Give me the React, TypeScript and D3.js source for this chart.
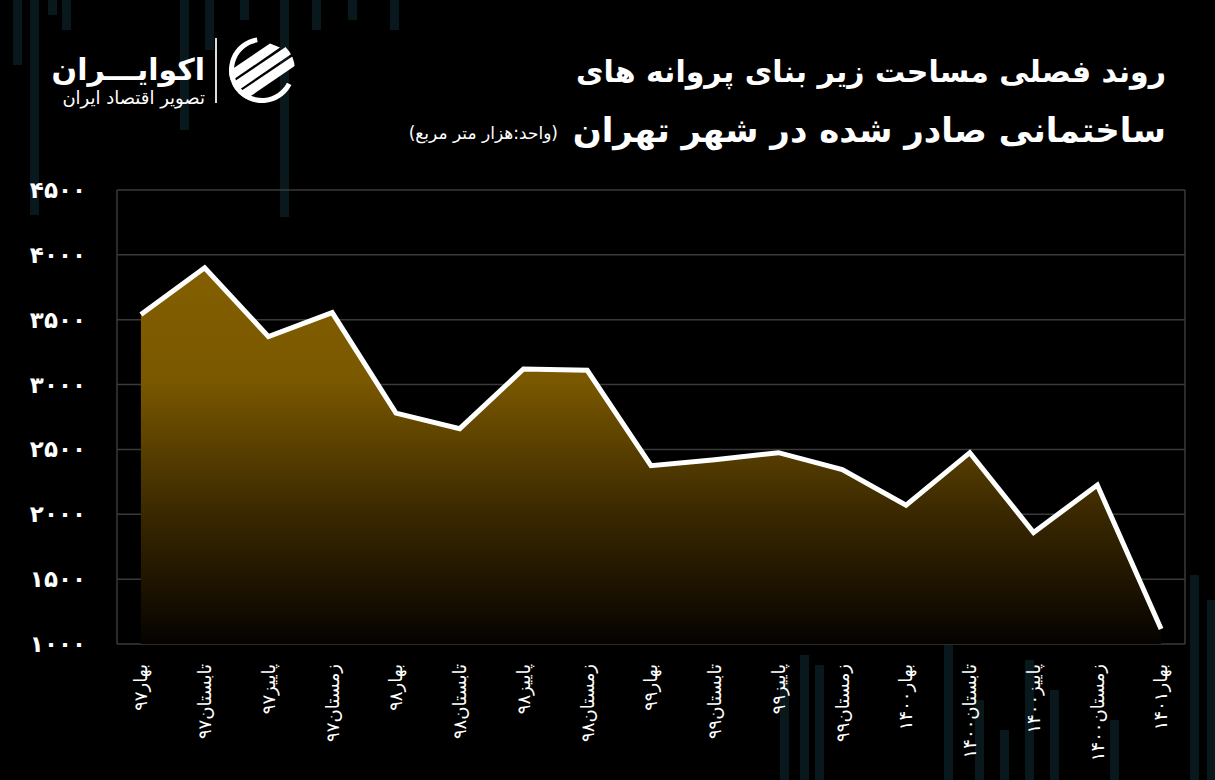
import { useRef, useEffect } from 'react'
import * as d3 from 'd3'

const SEASONS = [
  'بهار۹۷', 'تابستان۹۷', 'پاییز۹۷', 'زمستان۹۷',
  'بهار۹۸', 'تابستان۹۸', 'پاییز۹۸', 'زمستان۹۸',
  'بهار۹۹', 'تابستان۹۹', 'پاییز۹۹', 'زمستان۹۹',
  'بهار۱۴۰۰', 'تابستان۱۴۰۰', 'پاییز۱۴۰۰', 'زمستان۱۴۰۰',
  'بهار۱۴۰۱',
]
const AREA_VALUES = [
  3540, 3900, 3370, 3555,
  2780, 2660, 3120, 3110,
  2375, 2420, 2475, 2345,
  2070, 2475, 1860, 2225,
  1115,
]
const Y_TICKS = [1000, 1500, 2000, 2500, 3000, 3500, 4000, 4500]

const TITLE_1 = 'روند فصلی مساحت زیر بنای پروانه های'
const TITLE_2 = 'ساختمانی صادر شده در شهر تهران'
const UNIT = '(واحد:هزار متر مربع)'
const BRAND = 'اکوایـــران'
const BRAND_SUB = 'تصویر اقتصاد ایران'

// faint background candles (decoration): x, top, bottom
const BG_BARS: [number, number, number][] = [
  [13, 0, 65], [30, 0, 215], [48, 0, 15], [62, 0, 30], [180, 0, 130],
  [205, 0, 50], [240, 0, 20], [280, 0, 217], [312, 0, 30], [348, 0, 20],
  [390, 0, 30],
  [780, 680, 780], [800, 655, 780], [815, 665, 780], [944, 645, 780],
  [975, 700, 780], [1000, 730, 780], [1025, 660, 780], [1050, 690, 780],
  [1110, 720, 780], [1190, 575, 780], [1207, 600, 780],
]

const W = 1215
const H = 780
const PLOT = { left: 117, right: 1185, top: 190, bottom: 644 }
const FONT = "'DejaVu Sans', sans-serif"
const GRID = '#3a3a3a'
const GOLD = '#835f00'

const faDigits = (s: string) => s.replace(/\d/g, (d) => '۰۱۲۳۴۵۶۷۸۹'[+d])

export default function App() {
  const svgRef = useRef<SVGSVGElement>(null)

  useEffect(() => {
    const svg = svgRef.current
    if (!svg) return
    const sel = d3.select(svg)
    sel.selectAll('*').remove()

    sel.append('rect').attr('width', W).attr('height', H).attr('fill', '#000')

    const defs = sel.append('defs')
    const grad = defs.append('linearGradient').attr('id', 'areaGrad')
      .attr('x1', 0).attr('y1', 0).attr('x2', 0).attr('y2', 1)
    grad.append('stop').attr('offset', '0%').attr('stop-color', GOLD)
    grad.append('stop').attr('offset', '30%').attr('stop-color', '#7a5800')
    grad.append('stop').attr('offset', '65%').attr('stop-color', '#3a2800')
    grad.append('stop').attr('offset', '100%').attr('stop-color', '#050200')

    sel.append('g').selectAll('rect').data(BG_BARS).enter().append('rect')
      .attr('x', (d) => d[0]).attr('y', (d) => d[1])
      .attr('width', 9).attr('height', (d) => d[2] - d[1])
      .attr('fill', '#08181d')

    const x = d3.scalePoint<string>().domain(SEASONS)
      .range([PLOT.left, PLOT.right]).padding(0.375)
    const y = d3.scaleLinear().domain([1000, 4500]).range([PLOT.bottom, PLOT.top])

    const g = sel.append('g')

    // grid + frame
    g.append('g').selectAll('line').data(Y_TICKS).enter().append('line')
      .attr('x1', PLOT.left).attr('x2', PLOT.right)
      .attr('y1', (d) => y(d)).attr('y2', (d) => y(d))
      .attr('stroke', GRID).attr('stroke-width', 1.5)
    g.append('line').attr('x1', PLOT.left).attr('x2', PLOT.left)
      .attr('y1', PLOT.top).attr('y2', PLOT.bottom).attr('stroke', GRID).attr('stroke-width', 1.5)
    g.append('line').attr('x1', PLOT.right).attr('x2', PLOT.right)
      .attr('y1', PLOT.top).attr('y2', PLOT.bottom).attr('stroke', GRID).attr('stroke-width', 1.5)

    const area = d3.area<number>()
      .x((_, i) => x(SEASONS[i])!)
      .y0(y(1000))
      .y1((d) => y(d))
    g.append('path').datum(AREA_VALUES).attr('d', area).attr('fill', 'url(#areaGrad)')

    const line = d3.line<number>().x((_, i) => x(SEASONS[i])!).y((d) => y(d))
    g.append('path').datum(AREA_VALUES).attr('d', line)
      .attr('fill', 'none').attr('stroke', '#fff').attr('stroke-width', 5)
      .attr('stroke-linejoin', 'miter')

    // y labels
    g.append('g').selectAll('text').data(Y_TICKS).enter().append('text')
      .attr('x', 86).attr('y', (d) => y(d)).attr('dy', '0.35em')
      .attr('text-anchor', 'end').attr('fill', '#fff')
      .attr('font-family', FONT).attr('font-weight', 'bold').attr('font-size', 23)
      .text((d) => faDigits(String(d)))

    // x labels
    g.append('g').selectAll('text').data(SEASONS).enter().append('text')
      .attr('transform', (d) => `translate(${x(d)},664) rotate(-90)`)
      .attr('text-anchor', 'end').attr('dy', '0.35em')
      .attr('fill', '#fff').attr('font-family', FONT).attr('font-size', 18)
      .text((d) => d)

    // titles
    const t = sel.append('g').attr('font-family', FONT).attr('fill', '#fff')
    t.append('text').attr('x', 1166).attr('y', 82).attr('text-anchor', 'end')
      .attr('font-size', 30).attr('font-weight', 'bold').text(TITLE_1)
    t.append('text').attr('x', 1166).attr('y', 142).attr('text-anchor', 'end')
      .attr('font-size', 34).attr('font-weight', 'bold').text(TITLE_2)
    t.append('text').attr('x', 558).attr('y', 139).attr('text-anchor', 'end')
      .attr('font-size', 17).text(UNIT)

    // brand
    const b = sel.append('g').attr('font-family', FONT).attr('fill', '#fff')
    b.append('text').attr('x', 205).attr('y', 80).attr('text-anchor', 'end')
      .attr('font-size', 30).attr('font-weight', 'bold').text(BRAND)
    b.append('text').attr('x', 205).attr('y', 104).attr('text-anchor', 'end')
      .attr('font-size', 18).text(BRAND_SUB)
    b.append('line').attr('x1', 216).attr('x2', 216).attr('y1', 38).attr('y2', 103)
      .attr('stroke', '#ddd').attr('stroke-width', 2)

    const icon = b.append('g').attr('transform', 'translate(262,70)')
    defs.append('clipPath').attr('id', 'iconClip').append('circle').attr('r', 33)
    icon.append('path')
      .attr('d', d3.arc()({ innerRadius: 28, outerRadius: 33, startAngle: Math.PI * 0.65, endAngle: Math.PI * 1.95 })!)
      .attr('fill', '#fff')
    const stripes = icon.append('g').attr('clip-path', 'url(#iconClip)')
    ;[-22, -6, 10].forEach((o) => {
      stripes.append('polygon')
        .attr('points', `${-40 + o},${25 + o * 0.2} ${30 + o},${-22 + o * 0.2} ${40 + o},${-18 + o * 0.2} ${-30 + o},${30 + o * 0.2}`)
        .attr('fill', '#fff')
    })
  }, [])

  return (
    <svg
      ref={svgRef}
      width={W}
      height={H}
      style={{ position: 'absolute', left: 0, top: 0, display: 'block' }}
    />
  )
}
